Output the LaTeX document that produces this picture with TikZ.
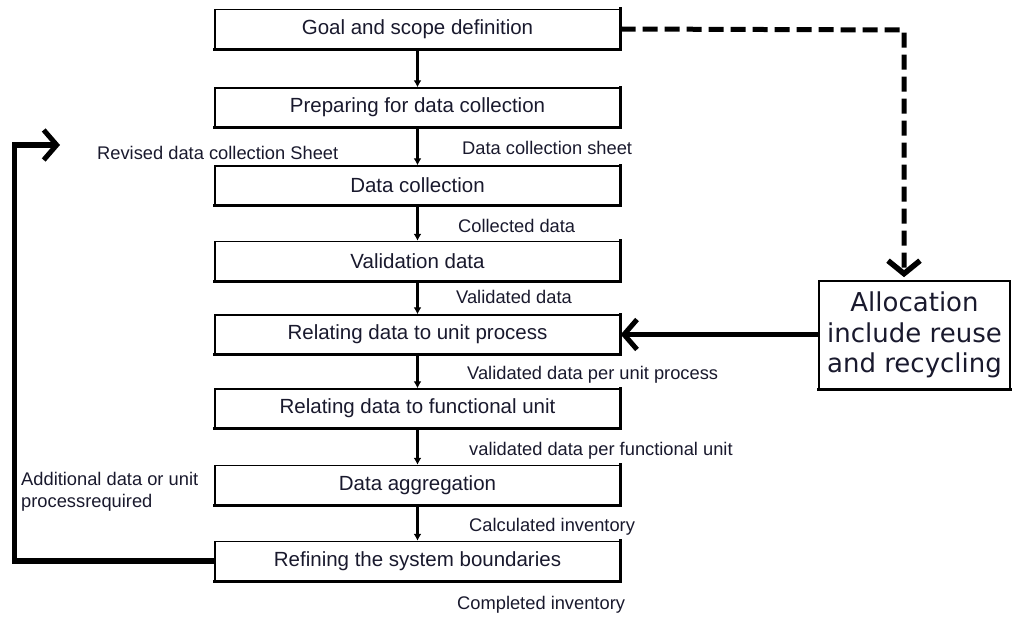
\documentclass[tikz,border=0pt]{standalone}
\usepackage{fontspec}
\setmainfont{Liberation Sans}
\newfontfamily\dejavu{DejaVu Sans}
\usetikzlibrary{arrows.meta}
\definecolor{ink}{RGB}{25,25,45}
\tikzset{
  stepbox/.style={draw=black, line width=1.4pt, minimum width=405pt, minimum height=39pt,
    inner sep=0pt, text=ink, font=\fontsize{20.5}{24}\selectfont},
  boxshade/.style={draw=black, line width=3.2pt, line cap=rect},
  flowlabel/.style={anchor=west, inner sep=0pt, text=ink, font=\fontsize{18.3}{21.5}\selectfont},
  flowarrow/.style={draw=black, line width=2.8pt, -{Latex[length=7pt,width=8pt]}},
  bigarrow/.style={draw=black, line width=5.5pt, line join=miter,
    -{Straight Barb[length=13pt,width=30pt,line width=5pt]}},
  dashline/.style={draw=black, line width=5pt, dash pattern=on 15pt off 7pt,
    -{Straight Barb[length=13pt,width=32pt,line width=5.5pt]}, shorten >=3pt},
  allocbox/.style={draw=black, line width=1.6pt, minimum width=191pt, minimum height=108pt,
    inner sep=0pt, align=center, text=ink, font=\dejavu\fontsize{26}{30.5}\selectfont}
}
\begin{document}
\begin{tikzpicture}[x=1pt, y=-1pt]
\useasboundingbox (0,0) rectangle (1013,617);

% process steps
\node[stepbox] (b1) at (417.5,29)   {Goal and scope definition};
\node[stepbox] (b2) at (417.5,107.5){Preparing for data collection};
\node[stepbox] (b3) at (417.5,185.5){Data collection};
\node[stepbox] (b4) at (417.5,261)  {Validation data};
\node[stepbox] (b5) at (417.5,334.5){Relating data to unit process};
\node[stepbox] (b6) at (417.5,408.5){Relating data to functional unit};
\node[stepbox] (b7) at (417.5,485)  {Data aggregation};
\node[stepbox] (b8) at (417.5,561)  {Refining the system boundaries};

% heavier bottom and right edges
\foreach \n in {b1,b2,b3,b4,b5,b6,b7,b8}
  \draw[boxshade] (\n.south west) -- (\n.south east) -- (\n.north east);

% allocation box
\node[allocbox] (alloc) at (914.5,335) {Allocation\\include reuse\\and recycling};
\draw[boxshade, line width=2.6pt] (alloc.south west) -- (alloc.south east);

% main flow
\draw[flowarrow] (b1) -- (b2);
\draw[flowarrow] (b2) -- (b3);
\draw[flowarrow] (b3) -- (b4);
\draw[flowarrow] (b4) -- (b5);
\draw[flowarrow] (b5) -- (b6);
\draw[flowarrow] (b6) -- (b7);
\draw[flowarrow] (b7) -- (b8);

% flow labels
\node[flowlabel] (l1) at (462,148) {Data collection sheet};
\node[flowlabel] (l2) at (458,226) {Collected data};
\node[flowlabel] (l3) at (456,297) {Validated data};
\node[flowlabel] (l4) at (467,375) {Validated data per unit process};
\node[flowlabel] (l5) at (469,451) {validated data per functional unit};
\node[flowlabel] (l6) at (469,527) {Calculated inventory};
\node[flowlabel] (l7) at (457,605) {Completed inventory};
\node[flowlabel] (l8) at (97,153)  {Revised data collection Sheet};
\node[flowlabel, align=left] (l9) at (21,492) {Additional data or unit\\processrequired};

% allocation link
\coordinate (dc) at (904,30);
\draw[dashline] (b1.east) -- (dc) -- (dc |- alloc.north);
\draw[bigarrow] (alloc.west |- b5.east) -- (b5.east);

% feedback loop
\coordinate (fbtip) at (60,145);
\draw[bigarrow] (b8.west) -- ++(-200,0) |- (fbtip);
\end{tikzpicture}
\end{document}
